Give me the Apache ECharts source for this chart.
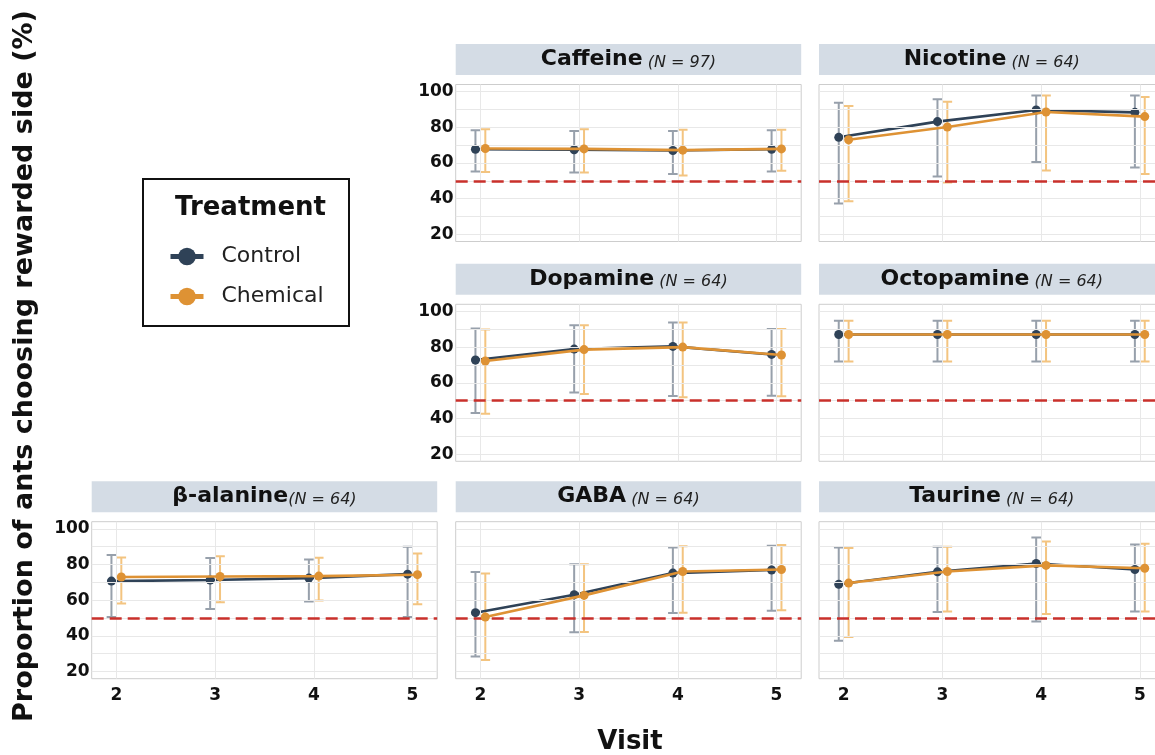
<!DOCTYPE html>
<html>
<head>
<meta charset="utf-8">
<script src="https://cdn.jsdelivr.net/npm/echarts@6/dist/echarts.min.js"></script>
<style>
  html, body { margin: 0; padding: 0; background: #fff; }
  #main { width: 1155px; height: 755px; }
</style>
</head>
<body>
<div id="main"></div>
<script>
// visits on the x axis, tick labels
const visits = [2, 3, 4, 5];
const yTicks = [20, 40, 60, 80, 100];
const gridLevels = [20, 30, 40, 50, 60, 70, 80, 90, 100];
const chance = 50;

// per visit: [mean, lower, upper] (%)
const caffeineControl = [[67.7, 55.2, 78.4], [67.4, 54.7, 78.0], [67.0, 53.9, 78.0], [67.7, 55.2, 78.4]];
const caffeineChemical = [[68.1, 54.9, 78.9], [67.9, 54.7, 78.9], [67.2, 53.0, 78.7], [67.9, 55.6, 78.6]];
const nicotineControl = [[74.4, 37.3, 93.8], [83.2, 52.4, 95.7], [89.7, 60.6, 97.9], [88.4, 57.5, 97.9]];
const nicotineChemical = [[73.0, 38.5, 92.0], [80.2, 49.1, 94.4], [88.6, 55.8, 97.9], [86.0, 53.9, 97.0]];
const dopamineControl = [[72.8, 43.1, 90.5], [78.9, 54.5, 92.2], [80.4, 52.6, 93.8], [75.9, 52.8, 90.1]];
const dopamineChemical = [[72.2, 42.7, 89.9], [78.6, 53.7, 92.2], [80.0, 51.9, 93.8], [75.6, 52.4, 90.1]];
const octopamineControl = [[87.1, 72.0, 94.8], [87.1, 72.0, 94.8], [87.1, 72.0, 94.8], [87.1, 72.0, 94.8]];
const octopamineChemical = [[87.1, 72.0, 94.8], [87.1, 72.0, 94.8], [87.1, 72.0, 94.8], [87.1, 72.0, 94.8]];
const alanineControl = [[70.7, 50.6, 85.3], [71.3, 55.1, 83.6], [72.4, 59.3, 82.8], [74.6, 50.6, 89.9]];
const alanineChemical = [[73.0, 58.2, 84.0], [73.3, 58.8, 84.7], [73.5, 59.9, 83.8], [74.3, 57.7, 86.2]];
const gabaControl = [[53.0, 28.4, 75.8], [63.1, 42.0, 80.2], [75.2, 52.8, 89.6], [76.9, 54.1, 90.5]];
const gabaChemical = [[50.6, 26.5, 75.0], [62.7, 42.2, 80.2], [76.1, 53.0, 90.3], [77.2, 54.3, 91.0]];
const taurineControl = [[68.9, 37.3, 89.6], [75.9, 53.4, 89.9], [80.6, 48.0, 95.1], [77.2, 53.7, 91.2]];
const taurineChemical = [[69.6, 39.4, 89.2], [76.1, 53.7, 89.9], [79.5, 52.3, 92.9], [77.9, 53.7, 91.6]];

// facet layout
const panels = [
  { name: 'Caffeine', n: 97, ctrl: caffeineControl, chem: caffeineChemical, row: 0, col: 1, yLab: true, xLab: false },
  { name: 'Nicotine', n: 64, ctrl: nicotineControl, chem: nicotineChemical, row: 0, col: 2, yLab: false, xLab: false },
  { name: 'Dopamine', n: 64, ctrl: dopamineControl, chem: dopamineChemical, row: 1, col: 1, yLab: true, xLab: false },
  { name: 'Octopamine', n: 64, ctrl: octopamineControl, chem: octopamineChemical, row: 1, col: 2, yLab: false, xLab: false },
  { name: 'β-alanine', n: 64, ctrl: alanineControl, chem: alanineChemical, row: 2, col: 0, yLab: true, xLab: true, tight: true },
  { name: 'GABA', n: 64, ctrl: gabaControl, chem: gabaChemical, row: 2, col: 1, yLab: false, xLab: true },
  { name: 'Taurine', n: 64, ctrl: taurineControl, chem: taurineChemical, row: 2, col: 2, yLab: false, xLab: true }
];

const FONT = 'DejaVu Sans';
const COL_LEFT = [91.7, 455.7, 819];
const COL_W = 345.5;
const ROW_TOP = [84.5, 304.3, 521.7];
const ROW_H = 157;
const DODGE = 0.05;
const CTRL = '#2f4257';
const CHEM = '#de9234';
const CTRL_ERR = 'rgba(47,66,87,0.5)';
const CHEM_ERR = 'rgba(236,165,60,0.65)';

function errorBars(name, rows, off, color, i) {
  return {
    type: 'custom', name: name, xAxisIndex: i, yAxisIndex: i, z: 3, silent: true,
    data: rows.map((r, k) => [visits[k] + off, r[1], r[2]]),
    renderItem: function (params, api) {
      const lo = api.coord([api.value(0), api.value(1)]);
      const hi = api.coord([api.value(0), api.value(2)]);
      const w = 4.8;
      return {
        type: 'polyline',
        shape: { points: [[lo[0] - w, lo[1]], [lo[0] + w, lo[1]], [lo[0], lo[1]], [hi[0], hi[1]], [hi[0] - w, hi[1]], [hi[0] + w, hi[1]]] },
        style: { stroke: color, lineWidth: 2, fill: null, lineJoin: 'bevel' }
      };
    }
  };
}

function meanLine(name, rows, off, color, i, z) {
  return {
    type: 'line', name: name, xAxisIndex: i, yAxisIndex: i, z: z, silent: true,
    data: rows.map((r, k) => [visits[k] + off, r[0]]),
    symbol: 'circle', symbolSize: 9, showSymbol: true,
    lineStyle: { color: color, width: 2.6 },
    itemStyle: { color: color }
  };
}

const grids = [], xAxes = [], yAxes = [], series = [], graphics = [];

panels.forEach((p, i) => {
  const left = COL_LEFT[p.col], top = ROW_TOP[p.row];
  grids.push({ left: left, top: top, width: COL_W, height: ROW_H, show: true, outerBoundsMode: 'none',
    borderColor: '#cdcdcd', borderWidth: 1, backgroundColor: '#fff' });
  xAxes.push({
    gridIndex: i, type: 'value', min: 1.75, max: 5.25, interval: 0.25,
    axisLine: { show: false }, axisTick: { show: false }, splitLine: { show: false },
    axisLabel: { show: p.xLab, margin: 8, fontSize: 17, fontWeight: 'bold', color: '#111', fontFamily: FONT,
      formatter: v => visits.includes(v) ? String(v) : '' }
  });
  yAxes.push({
    gridIndex: i, type: 'value', min: 16, max: 104, interval: 4,
    axisLine: { show: false }, axisTick: { show: false }, splitLine: { show: false },
    axisLabel: { show: p.yLab, margin: 2, fontSize: 17, fontWeight: 'bold', color: '#111', fontFamily: FONT,
      formatter: v => yTicks.includes(v) ? String(v) : '' }
  });

  const gridStyle = { color: '#e8e8e8', width: 1, type: 'solid' };
  series.push({
    type: 'line', name: 'grid' + i, xAxisIndex: i, yAxisIndex: i, data: [], silent: true, z: 1,
    markLine: {
      silent: true, symbol: 'none', animation: false, label: { show: false },
      data: gridLevels.map(v => ({ yAxis: v, lineStyle: gridStyle }))
        .concat(visits.map(v => ({ xAxis: v, lineStyle: gridStyle })))
        .concat([{ yAxis: chance, lineStyle: { color: '#c9302b', width: 2.5, type: [12, 6] } }])
    }
  });
  series.push(errorBars('Control CI', p.ctrl, -DODGE, CTRL_ERR, i));
  series.push(errorBars('Chemical CI', p.chem, DODGE, CHEM_ERR, i));
  series.push(meanLine('Control', p.ctrl, -DODGE, CTRL, i, 4));
  series.push(meanLine('Chemical', p.chem, DODGE, CHEM, i, 5));

  // facet strip
  graphics.push({ type: 'rect', shape: { x: left, y: top - 40.5, width: COL_W, height: 31 },
    style: { fill: '#d4dce5' }, silent: true });
  graphics.push({ type: 'text', x: left + COL_W / 2, y: top - 25,
    style: {
      text: '{a|' + p.name + '}{b|' + (p.tight ? '' : ' ') + '(N = ' + p.n + ')}',
      align: 'center', verticalAlign: 'middle',
      rich: {
        a: { fontSize: 22, fontWeight: 'bold', fontFamily: FONT, fill: '#111', color: '#111' },
        b: { fontSize: 16, fontStyle: 'italic', fontFamily: FONT, fill: '#222', color: '#222', verticalAlign: 'bottom' }
      }
    } });
});

// axis titles, legend box
graphics.push({ type: 'text', x: 25, y: 366, rotation: Math.PI / 2,
  style: { text: 'Proportion of ants choosing rewarded side (%)', fontSize: 27, fontWeight: 'bold',
    fontFamily: FONT, fill: '#111', align: 'center', verticalAlign: 'middle' } });
graphics.push({ type: 'text', x: 630, y: 742,
  style: { text: 'Visit', fontSize: 26, fontWeight: 'bold', fontFamily: FONT, fill: '#111',
    align: 'center', verticalAlign: 'middle' } });
graphics.push({ type: 'rect', shape: { x: 143, y: 179, width: 206, height: 147 },
  style: { fill: 'none', stroke: '#111', lineWidth: 2 } });
graphics.push({ type: 'text', x: 250.5, y: 208.5,
  style: { text: 'Treatment', fontSize: 26, fontWeight: 'bold', fontFamily: FONT, fill: '#111',
    align: 'center', verticalAlign: 'middle' } });

const chart = echarts.init(document.getElementById('main'));
chart.setOption({
  animation: false,
  backgroundColor: '#fff',
  grid: grids,
  xAxis: xAxes,
  yAxis: yAxes,
  legend: {
    data: ['Control', 'Chemical'], orient: 'vertical', left: 168, top: 245.5,
    itemWidth: 33, itemHeight: 22, itemGap: 18, padding: 0, selectedMode: false,
    lineStyle: { width: 5 },
    textStyle: { fontSize: 22, fontFamily: FONT, color: '#222', padding: [0, 0, 0, 13] }
  },
  graphic: graphics,
  series: series
});
</script>
</body>
</html>
